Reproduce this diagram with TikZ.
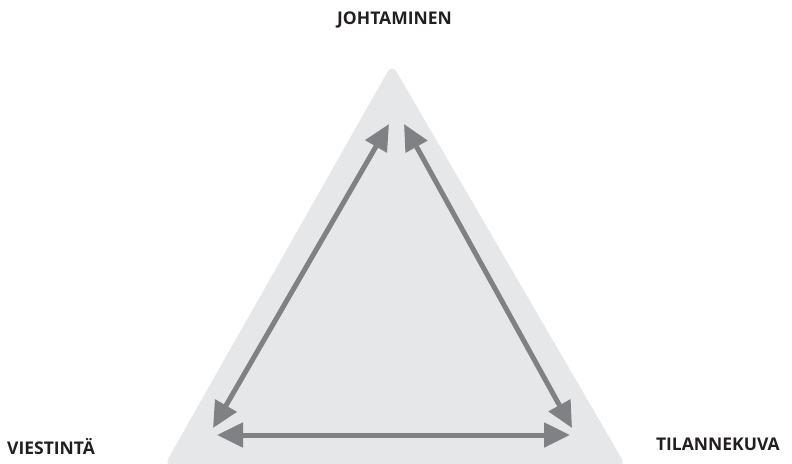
\documentclass[tikz,border=0pt]{standalone}
\usepackage{fontspec}
\setmainfont{Open Sans}
\usetikzlibrary{arrows.meta}
\definecolor{trifill}{HTML}{E6E7E8}
\definecolor{arrgray}{HTML}{808184}
\definecolor{txt}{HTML}{231F20}
\begin{document}
\begin{tikzpicture}[x=1pt,y=-1pt,
  lbl/.style={font=\bfseries\fontsize{17.5}{20}\selectfont, text=txt, inner sep=0pt},
  dbl/.style={draw=arrgray, line width=5pt, {Triangle[length=26pt,width=24pt]}-{Triangle[length=26pt,width=24pt]}}]
\useasboundingbox (0,0) rectangle (792,463);
\fill[trifill, rounded corners=9pt] (392,64) -- (626,466) -- (164,466) -- cycle;
\coordinate (t1) at (389,124);
\coordinate (t2) at (404,124);
\coordinate (l1) at (213,428);
\coordinate (r1) at (572,428);
\coordinate (l2) at (217,435);
\coordinate (r2) at (570,435);
\draw[dbl] (t1) -- (l1);
\draw[dbl] (t2) -- (r1);
\draw[dbl] (l2) -- (r2);
\node[lbl] (joh) at (394.5,20) {JOHTAMINEN};
\node[lbl, anchor=west] (vie) at (7,447) {VIESTINTÄ};
\node[lbl, anchor=east] (til) at (780,444) {TILANNEKUVA};
\end{tikzpicture}
\end{document}
